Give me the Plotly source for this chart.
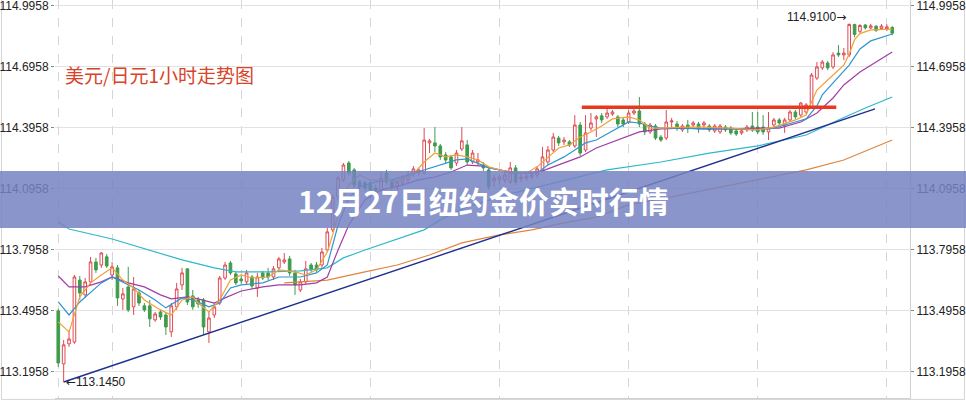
import plotly.graph_objects as go

# ---------------- data (USD/JPY hourly candles) ----------------
idx = list(range(156))

open_ = [113.495, 113.234, 113.333, 113.342, 113.647, 113.574, 113.638, 113.736, 113.721, 113.761,
         113.672, 113.707, 113.554, 113.613, 113.515, 113.583, 113.520, 113.520, 113.451, 113.490,
         113.475, 113.392, 113.515, 113.623, 113.702, 113.569, 113.549, 113.549, 113.392, 113.475,
         113.534, 113.657, 113.731, 113.677, 113.652, 113.638, 113.662, 113.608, 113.682, 113.682,
         113.662, 113.707, 113.736, 113.751, 113.682, 113.598, 113.638, 113.721, 113.721, 113.721,
         113.795, 113.894, 114.056, 114.140, 114.223, 114.189, 114.130, 114.125, 114.125, 114.100,
         114.090, 114.174, 114.130, 114.105, 114.125, 114.140, 114.169, 114.174, 114.174, 114.322,
         114.322, 114.307, 114.263, 114.253, 114.223, 114.292, 114.312, 114.228, 114.228, 114.213,
         114.189, 114.135, 114.140, 114.140, 114.130, 114.199, 114.145, 114.149, 114.154, 114.164,
         114.189, 114.228, 114.287, 114.346, 114.327, 114.327, 114.307, 114.410, 114.287, 114.395,
         114.440, 114.455, 114.450, 114.464, 114.450, 114.435, 114.425, 114.469, 114.479, 114.415,
         114.376, 114.405, 114.351, 114.346, 114.425, 114.415, 114.386, 114.410, 114.410, 114.415,
         114.410, 114.405, 114.381, 114.376, 114.400, 114.395, 114.381, 114.371, 114.386, 114.405,
         114.400, 114.400, 114.376, 114.410, 114.435, 114.410, 114.435, 114.474, 114.459, 114.474,
         114.499, 114.641, 114.691, 114.715, 114.696, 114.764, 114.755, 114.755, 114.905, 114.871,
         114.902, 114.888, 114.896, 114.885, 114.884, 114.890]

high = [113.505, 113.352, 113.397, 113.672, 113.667, 113.657, 113.761, 113.756, 113.785, 113.775,
        113.736, 113.721, 113.608, 113.712, 113.662, 113.598, 113.534, 113.549, 113.490, 113.500,
        113.490, 113.534, 113.633, 113.707, 113.705, 113.598, 113.564, 113.559, 113.490, 113.534,
        113.667, 113.736, 113.741, 113.687, 113.667, 113.697, 113.672, 113.682, 113.692, 113.707,
        113.716, 113.761, 113.780, 113.766, 113.697, 113.652, 113.741, 113.731, 113.736, 113.805,
        113.903, 114.066, 114.159, 114.223, 114.233, 114.199, 114.140, 114.135, 114.135, 114.115,
        114.179, 114.189, 114.145, 114.140, 114.164, 114.184, 114.208, 114.199, 114.395, 114.341,
        114.400, 114.317, 114.277, 114.263, 114.287, 114.400, 114.336, 114.287, 114.272, 114.228,
        114.199, 114.164, 114.164, 114.179, 114.228, 114.213, 114.169, 114.169, 114.179, 114.208,
        114.302, 114.307, 114.371, 114.356, 114.351, 114.336, 114.459, 114.425, 114.459, 114.469,
        114.459, 114.469, 114.494, 114.484, 114.459, 114.445, 114.484, 114.499, 114.548, 114.425,
        114.420, 114.415, 114.361, 114.484, 114.445, 114.430, 114.415, 114.435, 114.430, 114.425,
        114.430, 114.415, 114.415, 114.415, 114.410, 114.405, 114.391, 114.391, 114.410, 114.474,
        114.474, 114.459, 114.474, 114.445, 114.445, 114.445, 114.484, 114.484, 114.523, 114.518,
        114.666, 114.720, 114.730, 114.725, 114.769, 114.804, 114.789, 114.910, 114.908, 114.906,
        114.907, 114.908, 114.902, 114.907, 114.906, 114.897]

low = [113.219, 113.145, 113.318, 113.333, 113.549, 113.559, 113.623, 113.682, 113.707, 113.707,
       113.647, 113.520, 113.500, 113.490, 113.475, 113.520, 113.490, 113.416, 113.441, 113.451,
       113.377, 113.367, 113.500, 113.598, 113.524, 113.500, 113.510, 113.377, 113.337, 113.460,
       113.524, 113.647, 113.672, 113.623, 113.628, 113.623, 113.603, 113.564, 113.647, 113.647,
       113.647, 113.692, 113.726, 113.667, 113.574, 113.588, 113.628, 113.687, 113.687, 113.707,
       113.785, 113.884, 114.041, 114.130, 114.159, 114.100, 114.090, 114.085, 114.076, 114.017,
       114.081, 114.115, 114.090, 114.090, 114.110, 114.125, 114.154, 114.159, 114.164, 114.272,
       114.277, 114.238, 114.223, 114.189, 114.208, 114.282, 114.213, 114.218, 114.208, 114.184,
       114.090, 114.105, 114.120, 114.125, 114.120, 114.115, 114.130, 114.135, 114.145, 114.149,
       114.179, 114.213, 114.277, 114.307, 114.312, 114.302, 114.297, 114.258, 114.277, 114.381,
       114.351, 114.420, 114.440, 114.455, 114.400, 114.400, 114.415, 114.459, 114.400, 114.361,
       114.366, 114.336, 114.327, 114.336, 114.400, 114.381, 114.376, 114.371, 114.400, 114.371,
       114.395, 114.376, 114.371, 114.366, 114.376, 114.361, 114.356, 114.361, 114.376, 114.376,
       114.366, 114.361, 114.336, 114.395, 114.410, 114.371, 114.425, 114.440, 114.450, 114.464,
       114.489, 114.632, 114.681, 114.681, 114.686, 114.745, 114.730, 114.745, 114.841, 114.862,
       114.880, 114.883, 114.868, 114.878, 114.872, 114.852]

close = [113.239, 113.328, 113.357, 113.662, 113.583, 113.638, 113.736, 113.697, 113.780, 113.716,
         113.712, 113.559, 113.579, 113.500, 113.603, 113.534, 113.500, 113.456, 113.480, 113.465,
         113.416, 113.520, 113.603, 113.682, 113.539, 113.515, 113.529, 113.416, 113.460, 113.515,
         113.657, 113.721, 113.682, 113.633, 113.643, 113.682, 113.618, 113.662, 113.657, 113.662,
         113.702, 113.751, 113.746, 113.682, 113.623, 113.638, 113.702, 113.697, 113.697, 113.785,
         113.884, 114.056, 114.149, 114.213, 114.174, 114.115, 114.105, 114.100, 114.090, 114.056,
         114.149, 114.130, 114.105, 114.130, 114.149, 114.164, 114.194, 114.189, 114.336, 114.332,
         114.307, 114.253, 114.238, 114.199, 114.272, 114.332, 114.228, 114.272, 114.238, 114.199,
         114.105, 114.149, 114.154, 114.164, 114.199, 114.130, 114.154, 114.159, 114.164, 114.194,
         114.253, 114.287, 114.351, 114.322, 114.336, 114.312, 114.410, 114.272, 114.371, 114.420,
         114.450, 114.435, 114.469, 114.474, 114.415, 114.415, 114.469, 114.479, 114.415, 114.376,
         114.410, 114.346, 114.336, 114.425, 114.430, 114.395, 114.405, 114.391, 114.420, 114.391,
         114.420, 114.386, 114.405, 114.405, 114.386, 114.371, 114.366, 114.381, 114.400, 114.386,
         114.376, 114.376, 114.395, 114.435, 114.420, 114.435, 114.474, 114.450, 114.518, 114.509,
         114.656, 114.696, 114.720, 114.691, 114.755, 114.755, 114.764, 114.905, 114.856, 114.900,
         114.888, 114.898, 114.876, 114.897, 114.893, 114.862]

# moving-average lines (candle index, price)
ma5_x = [0, 2, 4, 6, 8, 10, 12, 14, 16, 19, 21, 23, 25, 26, 28, 30, 32, 34, 36, 39, 41, 44, 46, 48, 50,
         51, 52, 53, 54, 56, 58, 60, 63, 66, 68, 70, 72, 74, 76, 78, 80, 82, 84, 87, 89, 91, 93, 95, 97,
         99, 101, 103, 106, 108, 110, 112, 116, 120, 125, 130, 133, 137, 139, 140, 141, 144, 146, 147,
         148, 149, 151, 155]
ma5_y = [113.441, 113.392, 113.564, 113.633, 113.672, 113.707, 113.647, 113.608, 113.549, 113.500,
         113.475, 113.549, 113.564, 113.534, 113.490, 113.549, 113.647, 113.672, 113.657, 113.662,
         113.697, 113.687, 113.672, 113.697, 113.785, 113.869, 113.967, 114.051, 114.115, 114.164,
         114.140, 114.140, 114.135, 114.169, 114.228, 114.272, 114.253, 114.263, 114.253, 114.238,
         114.204, 114.189, 114.179, 114.174, 114.204, 114.253, 114.297, 114.312, 114.351, 114.376,
         114.405, 114.440, 114.450, 114.435, 114.395, 114.395, 114.400, 114.400, 114.395, 114.386,
         114.400, 114.435, 114.459, 114.523, 114.582, 114.656, 114.705, 114.760, 114.830, 114.860,
         114.878, 114.882]

ma10_x = [0, 2, 4, 6, 8, 10, 12, 15, 18, 20, 23, 25, 28, 30, 32, 34, 38, 41, 45, 48, 50, 52, 54, 56,
          59, 62, 65, 68, 71, 74, 76, 78, 80, 82, 84, 87, 89, 91, 94, 96, 98, 100, 104, 106, 108, 110,
          112, 116, 120, 125, 130, 133, 137, 139, 141, 142, 144, 146, 147, 149, 151, 155]
ma10_y = [113.539, 113.475, 113.539, 113.588, 113.633, 113.662, 113.638, 113.598, 113.549, 113.510,
          113.559, 113.549, 113.515, 113.534, 113.608, 113.623, 113.633, 113.662, 113.662, 113.682,
          113.721, 113.918, 114.051, 114.105, 114.130, 114.140, 114.164, 114.189, 114.213, 114.238,
          114.243, 114.223, 114.199, 114.189, 114.174, 114.174, 114.174, 114.213, 114.253, 114.287,
          114.322, 114.336, 114.395, 114.425, 114.420, 114.405, 114.395, 114.395, 114.391, 114.391,
          114.386, 114.395, 114.425, 114.440, 114.504, 114.558, 114.617, 114.676, 114.705, 114.784,
          114.824, 114.858]

ma20_x = [0, 2, 5, 8, 10, 13, 16, 19, 21, 24, 26, 29, 31, 34, 38, 41, 45, 48, 50, 52, 54, 57, 60, 64,
          67, 70, 73, 76, 79, 82, 85, 88, 90, 94, 97, 100, 104, 108, 112, 116, 120, 125, 130, 134, 138,
          141, 144, 146, 149, 152, 155]
ma20_y = [113.667, 113.613, 113.613, 113.638, 113.662, 113.633, 113.613, 113.574, 113.554, 113.564,
          113.554, 113.534, 113.559, 113.593, 113.613, 113.623, 113.623, 113.633, 113.662, 113.795,
          113.918, 114.041, 114.090, 114.115, 114.140, 114.154, 114.179, 114.213, 114.208, 114.189,
          114.174, 114.174, 114.184, 114.223, 114.253, 114.297, 114.336, 114.376, 114.391, 114.395,
          114.391, 114.391, 114.395, 114.395, 114.425, 114.469, 114.543, 114.607, 114.671, 114.720,
          114.769]

ma60_x = [0, 2, 10, 15, 23, 29, 33, 39, 45, 50, 53, 57, 63, 68, 71, 76, 84, 92, 102, 112, 121, 130,
          139, 145, 150, 155]
ma60_y = [113.933, 113.898, 113.849, 113.810, 113.746, 113.707, 113.687, 113.687, 113.692, 113.707,
          113.756, 113.795, 113.849, 113.894, 113.943, 114.007, 114.071, 114.125, 114.189, 114.228,
          114.272, 114.307, 114.361, 114.435, 114.494, 114.548]

ma120_x = [42, 50, 57, 63, 69, 75, 82, 88, 94, 100, 106, 114, 139, 146, 155]
ma120_y = [113.633, 113.647, 113.687, 113.721, 113.770, 113.830, 113.869, 113.894, 113.928, 113.957,
           114.017, 114.056, 114.189, 114.238, 114.336]

trend_x = [1, 151.8]
trend_y = [113.145, 114.489]

resist_x = [97.3, 144.6]
resist_y = [114.497, 114.497]

day_breaks = [0, 10, 34, 58, 82, 106, 130, 154]

y_ticks = [113.1958, 113.4958, 113.7958, 114.0958, 114.3958, 114.6958, 114.9958]
y_ticktext = ["113.1958", "113.4958", "113.7958", "114.0958", "114.3958", "114.6958", "114.9958"]

low_label = "<span style='font-family:DejaVu Sans'>←</span>113.1450"
high_label = "114.9100<span style='font-family:DejaVu Sans'>→</span>"
subtitle = "美元/日元1小时走势图"
banner_title = "12月27日纽约金价实时行情"

Y_RANGE = [113.0664, 115.0253]
X_RANGE = [-0.61, 158.3]

# ---------------- figure ----------------
fig = go.Figure()

fig.add_trace(go.Candlestick(
    x=idx, open=open_, high=high, low=low, close=close,
    increasing=dict(line=dict(color="#DE4A52", width=1), fillcolor="#FFFFFF"),
    decreasing=dict(line=dict(color="#3F9C4C", width=1), fillcolor="#3F9C4C"),
    whiskerwidth=0, hoverinfo="skip", showlegend=False,
))

for xs, ys, col in [
    (ma120_x, ma120_y, "#E0843E"),
    (ma60_x, ma60_y, "#2FB8C8"),
    (ma20_x, ma20_y, "#A23DA6"),
    (ma10_x, ma10_y, "#2F95D0"),
    (ma5_x, ma5_y, "#F0A03A"),
]:
    fig.add_trace(go.Scatter(x=xs, y=ys, mode="lines",
                             line=dict(color=col, width=1.2),
                             hoverinfo="skip", showlegend=False))

fig.add_trace(go.Scatter(x=trend_x, y=trend_y, mode="lines",
                         line=dict(color="#1F2F8F", width=1.4),
                         hoverinfo="skip", showlegend=False))
fig.add_trace(go.Scatter(x=resist_x, y=resist_y, mode="lines",
                         line=dict(color="#E8381F", width=3.5),
                         hoverinfo="skip", showlegend=False))

# invisible trace so the right-hand axis is drawn
fig.add_trace(go.Scatter(x=[idx[0]], y=[close[0]], yaxis="y2", mode="markers",
                         marker=dict(opacity=0), hoverinfo="skip", showlegend=False))

tickfont = dict(family="Liberation Sans, Arial, sans-serif", size=12, color="#222222")
border = dict(color="#d4d4d4", width=1)

fig.update_layout(
    width=966, height=400,
    margin=dict(l=55, r=56, t=0, b=2, autoexpand=False),
    paper_bgcolor="white", plot_bgcolor="white",
    showlegend=False,
    xaxis=dict(range=X_RANGE, tickvals=day_breaks, showticklabels=False, ticks="",
               showgrid=True, gridcolor="#d6d6d6", griddash="dash", gridwidth=1,
               zeroline=False, rangeslider=dict(visible=False),
               showline=True, linecolor="#d0d0d0", automargin=False),
    yaxis=dict(range=Y_RANGE, tickvals=y_ticks, ticktext=y_ticktext,
               ticks="outside", ticklen=3, tickcolor="#888888",
               showgrid=True, gridcolor="#e2e2e2", zeroline=False,
               tickfont=tickfont, showline=False, automargin=False,
               ticklabeloverflow="allow"),
    yaxis2=dict(range=Y_RANGE, tickvals=y_ticks, ticktext=y_ticktext, overlaying="y",
                side="right", ticks="outside", ticklen=3, tickcolor="#888888",
                showgrid=False, zeroline=False, tickfont=tickfont,
                showline=True, linecolor="#d0d0d0", automargin=False,
                ticklabeloverflow="allow"),
    shapes=[
        # outer frame of the picture (left, right, bottom)
        dict(type="line", xref="paper", yref="paper", x0=-0.0626, x1=-0.0626,
             y0=-0.004, y1=1.0, line=border, layer="below"),
        dict(type="line", xref="paper", yref="paper", x0=1.0637, x1=1.0637,
             y0=-0.004, y1=1.0, line=border, layer="below"),
        dict(type="line", xref="paper", yref="paper", x0=-0.0626, x1=1.0637,
             y0=-0.0035, y1=-0.0035, line=border, layer="below"),
        # title banner
        dict(type="rect", xref="paper", yref="paper", x0=-0.08, x1=1.08,
             y0=0.4271, y1=0.5704, fillcolor="rgba(117,131,194,0.85)",
             line=dict(width=0), layer="above"),
    ],
    annotations=[
        dict(text=subtitle, xref="paper", yref="paper", x=0.0094, y=0.8116,
             xanchor="left", yanchor="middle", showarrow=False,
             font=dict(family="Noto Sans CJK SC", size=19, color="#D8432A")),
        dict(text=low_label, xref="x", yref="y", x=idx[1], y=min(low),
             xanchor="left", yanchor="middle", showarrow=False,
             font=tickfont),
        dict(text=high_label, xref="x", yref="y", x=147, y=max(high),
             xanchor="right", yanchor="middle", yshift=6, xshift=-1, showarrow=False,
             font=tickfont),
        dict(text=banner_title, xref="paper", yref="paper", x=0.5006, y=0.4975,
             xanchor="center", yanchor="middle", showarrow=False,
             font=dict(family="Noto Sans CJK SC", size=30, color="white", weight="bold")),
    ],
)

fig.write_html("out.html", config={"displayModeBar": False},
               post_script="document.body.style.margin='0';document.body.style.padding='0';")
